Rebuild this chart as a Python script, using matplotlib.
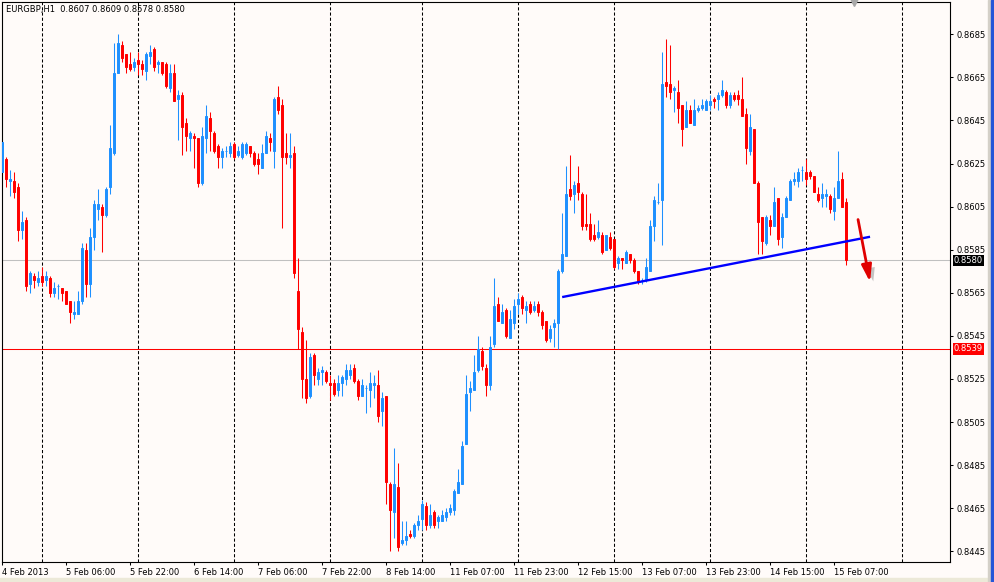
import numpy as np
import matplotlib.pyplot as plt
from matplotlib import patheffects
from matplotlib.patches import Rectangle
from matplotlib.transforms import blended_transform_factory

# EURGBP H1 bars, 4 Feb 14:00 .. 15 Feb 10:00 (2013)
opens = [
    0.8621, 0.8627, 0.8617, 0.8617, 0.8614, 0.8594, 0.8599, 0.8569, 0.8573, 0.8570,
    0.8573, 0.8571, 0.8572, 0.8565, 0.8568, 0.8567, 0.8566, 0.8561, 0.8555, 0.8555,
    0.8561, 0.8585, 0.8569, 0.8591, 0.8604, 0.8605, 0.8601, 0.8614, 0.8630, 0.8667,
    0.8680, 0.8676, 0.8671, 0.8670, 0.8673, 0.8671, 0.8668, 0.8675, 0.8678, 0.8671,
    0.8672, 0.8671, 0.8660, 0.8667, 0.8655, 0.8657, 0.8644, 0.8637, 0.8638, 0.8637,
    0.8616, 0.8637, 0.8646, 0.8639, 0.8633, 0.8628, 0.8631, 0.8630, 0.8634, 0.8629,
    0.8628, 0.8630, 0.8633, 0.8630, 0.8627, 0.8623, 0.8630, 0.8637, 0.8631, 0.8656,
    0.8652, 0.8630, 0.8628, 0.8630, 0.8566, 0.8547, 0.8525, 0.8517, 0.8536, 0.8525,
    0.8528, 0.8528, 0.8523, 0.8523, 0.8520, 0.8523, 0.8525, 0.8527, 0.8530, 0.8524,
    0.8517, 0.8521, 0.8520, 0.8522, 0.8522, 0.8510, 0.8517, 0.8476, 0.8463, 0.8475,
    0.8449, 0.8450, 0.8453, 0.8452, 0.8457, 0.8460, 0.8466, 0.8457, 0.8463, 0.8459,
    0.8459, 0.8461, 0.8463, 0.8464, 0.8472, 0.8476, 0.8495, 0.8519, 0.8520, 0.8529,
    0.8538, 0.8530, 0.8522, 0.8541, 0.8560, 0.8551, 0.8557, 0.8544, 0.8551, 0.8560,
    0.8563, 0.8557, 0.8560, 0.8557, 0.8560, 0.8556, 0.8552, 0.8544, 0.8549, 0.8551,
    0.8575, 0.8582, 0.8613, 0.8611, 0.8616, 0.8611, 0.8597, 0.8597, 0.8592, 0.8591,
    0.8592, 0.8585, 0.8591, 0.8590, 0.8579, 0.8581, 0.8579, 0.8583, 0.8580, 0.8575,
    0.8571, 0.8571, 0.8575, 0.8596, 0.8607, 0.8608, 0.8663, 0.8662, 0.8659, 0.8658,
    0.8652, 0.8642, 0.8650, 0.8643, 0.8650, 0.8651, 0.8650, 0.8652, 0.8655, 0.8655,
    0.8657, 0.8658, 0.8652, 0.8657, 0.8657, 0.8655, 0.8648, 0.8631, 0.8641, 0.8616,
    0.8600, 0.8588, 0.8599, 0.8596, 0.8609, 0.8591, 0.8600, 0.8608, 0.8617, 0.8617,
    0.8622, 0.8621, 0.8621, 0.8619, 0.8611, 0.8609, 0.8610, 0.8610, 0.8603, 0.8609,
    0.8618, 0.8607,
]
highs = [
    0.8636, 0.8628, 0.8622, 0.8621, 0.8616, 0.8603, 0.8600, 0.8575, 0.8574, 0.8575,
    0.8577, 0.8575, 0.8573, 0.8570, 0.8569, 0.8567, 0.8566, 0.8561, 0.8561, 0.8566,
    0.8588, 0.8588, 0.8595, 0.8608, 0.8613, 0.8606, 0.8614, 0.8643, 0.8681, 0.8685,
    0.8682, 0.8676, 0.8677, 0.8674, 0.8677, 0.8673, 0.8677, 0.8680, 0.8679, 0.8673,
    0.8672, 0.8672, 0.8671, 0.8671, 0.8659, 0.8658, 0.8646, 0.8640, 0.8639, 0.8637,
    0.8642, 0.8652, 0.8649, 0.8640, 0.8634, 0.8632, 0.8633, 0.8635, 0.8635, 0.8633,
    0.8635, 0.8635, 0.8633, 0.8631, 0.8630, 0.8634, 0.8640, 0.8639, 0.8656, 0.8661,
    0.8655, 0.8639, 0.8639, 0.8633, 0.8581, 0.8549, 0.8543, 0.8537, 0.8537, 0.8530,
    0.8531, 0.8529, 0.8527, 0.8525, 0.8527, 0.8527, 0.8532, 0.8532, 0.8532, 0.8525,
    0.8525, 0.8522, 0.8528, 0.8527, 0.8529, 0.8519, 0.8517, 0.8477, 0.8493, 0.8486,
    0.8459, 0.8459, 0.8455, 0.8458, 0.8462, 0.8469, 0.8468, 0.8467, 0.8464, 0.8462,
    0.8464, 0.8465, 0.8467, 0.8474, 0.8483, 0.8496, 0.8527, 0.8524, 0.8536, 0.8545,
    0.8540, 0.8532, 0.8545, 0.8572, 0.8563, 0.8560, 0.8558, 0.8557, 0.8562, 0.8565,
    0.8564, 0.8561, 0.8561, 0.8561, 0.8561, 0.8557, 0.8552, 0.8550, 0.8553, 0.8576,
    0.8602, 0.8624, 0.8629, 0.8617, 0.8624, 0.8612, 0.8611, 0.8602, 0.8597, 0.8599,
    0.8593, 0.8592, 0.8593, 0.8590, 0.8582, 0.8581, 0.8585, 0.8583, 0.8581, 0.8575,
    0.8572, 0.8581, 0.8599, 0.8610, 0.8616, 0.8677, 0.8683, 0.8680, 0.8661, 0.8664,
    0.8652, 0.8654, 0.8652, 0.8655, 0.8652, 0.8655, 0.8655, 0.8657, 0.8656, 0.8658,
    0.8664, 0.8659, 0.8658, 0.8658, 0.8659, 0.8665, 0.8651, 0.8648, 0.8641, 0.8617,
    0.8600, 0.8601, 0.8601, 0.8614, 0.8609, 0.8602, 0.8610, 0.8618, 0.8621, 0.8623,
    0.8624, 0.8627, 0.8622, 0.8619, 0.8614, 0.8616, 0.8613, 0.8611, 0.8614, 0.8631,
    0.8621, 0.8609,
]
lows = [
    0.8620, 0.8614, 0.8610, 0.8609, 0.8589, 0.8590, 0.8566, 0.8565, 0.8567, 0.8568,
    0.8568, 0.8568, 0.8563, 0.8563, 0.8562, 0.8561, 0.8560, 0.8551, 0.8553, 0.8555,
    0.8560, 0.8563, 0.8563, 0.8585, 0.8599, 0.8584, 0.8600, 0.8611, 0.8629, 0.8667,
    0.8672, 0.8667, 0.8668, 0.8668, 0.8666, 0.8666, 0.8664, 0.8671, 0.8668, 0.8667,
    0.8666, 0.8660, 0.8658, 0.8654, 0.8636, 0.8629, 0.8631, 0.8631, 0.8623, 0.8614,
    0.8615, 0.8630, 0.8631, 0.8630, 0.8623, 0.8623, 0.8628, 0.8628, 0.8627, 0.8628,
    0.8627, 0.8629, 0.8628, 0.8624, 0.8620, 0.8623, 0.8630, 0.8631, 0.8623, 0.8648,
    0.8595, 0.8625, 0.8623, 0.8572, 0.8539, 0.8516, 0.8514, 0.8516, 0.8522, 0.8522,
    0.8522, 0.8523, 0.8515, 0.8517, 0.8517, 0.8517, 0.8522, 0.8525, 0.8523, 0.8515,
    0.8517, 0.8509, 0.8512, 0.8516, 0.8505, 0.8503, 0.8467, 0.8445, 0.8451, 0.8445,
    0.8448, 0.8448, 0.8451, 0.8451, 0.8455, 0.8455, 0.8455, 0.8456, 0.8456, 0.8456,
    0.8459, 0.8459, 0.8462, 0.8462, 0.8472, 0.8476, 0.8495, 0.8510, 0.8520, 0.8528,
    0.8529, 0.8517, 0.8520, 0.8540, 0.8552, 0.8551, 0.8544, 0.8544, 0.8548, 0.8555,
    0.8555, 0.8551, 0.8555, 0.8556, 0.8554, 0.8548, 0.8542, 0.8542, 0.8540, 0.8539,
    0.8574, 0.8582, 0.8608, 0.8602, 0.8608, 0.8594, 0.8594, 0.8589, 0.8589, 0.8590,
    0.8583, 0.8585, 0.8585, 0.8576, 0.8576, 0.8576, 0.8579, 0.8579, 0.8574, 0.8569,
    0.8569, 0.8570, 0.8575, 0.8589, 0.8606, 0.8587, 0.8656, 0.8655, 0.8649, 0.8644,
    0.8633, 0.8642, 0.8644, 0.8643, 0.8649, 0.8650, 0.8650, 0.8650, 0.8651, 0.8650,
    0.8656, 0.8651, 0.8651, 0.8654, 0.8652, 0.8647, 0.8625, 0.8629, 0.8616, 0.8583,
    0.8583, 0.8587, 0.8592, 0.8596, 0.8587, 0.8586, 0.8600, 0.8608, 0.8615, 0.8614,
    0.8617, 0.8615, 0.8618, 0.8612, 0.8607, 0.8605, 0.8605, 0.8602, 0.8599, 0.8609,
    0.8605, 0.8578,
]
closes = [
    0.8635, 0.8618, 0.8618, 0.8612, 0.8594, 0.8598, 0.8568, 0.8574, 0.8571, 0.8572,
    0.8570, 0.8573, 0.8565, 0.8567, 0.8568, 0.8565, 0.8560, 0.8556, 0.8556, 0.8561,
    0.8586, 0.8569, 0.8591, 0.8606, 0.8606, 0.8601, 0.8613, 0.8632, 0.8667, 0.8681,
    0.8674, 0.8670, 0.8669, 0.8672, 0.8671, 0.8669, 0.8676, 0.8677, 0.8670, 0.8672,
    0.8667, 0.8661, 0.8667, 0.8654, 0.8657, 0.8642, 0.8638, 0.8639, 0.8637, 0.8616,
    0.8638, 0.8647, 0.8640, 0.8631, 0.8628, 0.8631, 0.8631, 0.8633, 0.8628, 0.8631,
    0.8634, 0.8634, 0.8630, 0.8625, 0.8625, 0.8630, 0.8638, 0.8635, 0.8655, 0.8650,
    0.8628, 0.8628, 0.8629, 0.8574, 0.8548, 0.8525, 0.8516, 0.8535, 0.8527, 0.8528,
    0.8529, 0.8524, 0.8522, 0.8518, 0.8523, 0.8526, 0.8529, 0.8529, 0.8524, 0.8517,
    0.8522, 0.8521, 0.8523, 0.8523, 0.8508, 0.8516, 0.8477, 0.8464, 0.8476, 0.8447,
    0.8450, 0.8452, 0.8452, 0.8457, 0.8459, 0.8467, 0.8457, 0.8462, 0.8457, 0.8461,
    0.8462, 0.8463, 0.8465, 0.8473, 0.8477, 0.8494, 0.8518, 0.8521, 0.8528, 0.8539,
    0.8531, 0.8522, 0.8540, 0.8559, 0.8552, 0.8556, 0.8545, 0.8553, 0.8559, 0.8562,
    0.8558, 0.8559, 0.8556, 0.8559, 0.8556, 0.8550, 0.8543, 0.8548, 0.8551, 0.8575,
    0.8583, 0.8611, 0.8610, 0.8615, 0.8612, 0.8596, 0.8596, 0.8590, 0.8590, 0.8593,
    0.8584, 0.8592, 0.8586, 0.8577, 0.8581, 0.8580, 0.8584, 0.8580, 0.8575, 0.8570,
    0.8571, 0.8577, 0.8596, 0.8608, 0.8607, 0.8662, 0.8661, 0.8658, 0.8660, 0.8651,
    0.8641, 0.8650, 0.8644, 0.8650, 0.8651, 0.8652, 0.8654, 0.8654, 0.8654, 0.8657,
    0.8659, 0.8652, 0.8657, 0.8655, 0.8655, 0.8647, 0.8632, 0.8642, 0.8616, 0.8598,
    0.8589, 0.8600, 0.8596, 0.8607, 0.8590, 0.8600, 0.8609, 0.8617, 0.8618, 0.8621,
    0.8622, 0.8618, 0.8619, 0.8612, 0.8608, 0.8611, 0.8611, 0.8604, 0.8609, 0.8617,
    0.8605, 0.8580,
]

# time axis labels every 16 bars, day separators (bar index of 00:00)
tick_labels = ["4 Feb 2013", "5 Feb 06:00", "5 Feb 22:00", "6 Feb 14:00", "7 Feb 06:00",
               "7 Feb 22:00", "8 Feb 14:00", "11 Feb 07:00", "11 Feb 23:00", "12 Feb 15:00",
               "13 Feb 07:00", "13 Feb 23:00", "14 Feb 15:00", "15 Feb 07:00"]
day_starts = [10, 34, 58, 82, 105, 129, 153, 177, 201, 225]
price_ticks = [0.8445, 0.8465, 0.8485, 0.8505, 0.8525, 0.8545, 0.8565,
               0.8585, 0.8605, 0.8625, 0.8645, 0.8665, 0.8685]

bid_price = 0.8580
level_price = 0.8539
trend_x = [140, 217]
trend_y = [0.8563, 0.8591]
arrow_from = (214, 0.8599)
arrow_to = (217, 0.8570)
header = "EURGBP,H1  0.8607 0.8609 0.8578 0.8580"

bull = "#1E90FF"
bear = "#FF0000"
bg = "#FFFBF9"

plt.rcParams["font.family"] = "DejaVu Sans"

fig = plt.figure(figsize=(9.94, 5.82), dpi=100, facecolor=bg)
ax = fig.add_axes([2 / 994, 20 / 582, 948 / 994, 560 / 582], facecolor=bg)

o = np.array(opens)
h = np.array(highs)
l = np.array(lows)
c = np.array(closes)
x = np.arange(len(o))
colors = np.where(c >= o, bull, bear)

# day separators
for d in day_starts:
    ax.axvline(d, color="black", lw=0.75, dashes=(3, 2), zorder=1)

ax.axhline(bid_price, color="#C0C0C0", lw=0.75, zorder=1)
ax.axhline(level_price, color="#FF0000", lw=0.75, zorder=1)

# candles
ax.vlines(x, np.minimum(l, np.minimum(o, c)), np.maximum(h, np.maximum(o, c)),
          colors=colors, lw=0.75, zorder=2)
ax.bar(x, c - o, bottom=o, width=0.5, color=colors, edgecolor=colors,
       linewidth=0.7, zorder=3)

# trend line and arrow
ax.plot(trend_x, trend_y, color="#0000FF", lw=1.7, zorder=4, solid_capstyle="butt")
ann = ax.annotate("", xy=arrow_to, xytext=arrow_from,
                  arrowprops=dict(arrowstyle="-|>,head_length=1.0,head_width=0.3",
                                  color="#E00000", lw=2.0, shrinkA=0, shrinkB=0),
                  zorder=5)
ann.arrow_patch.set_path_effects([
    patheffects.SimplePatchShadow(offset=(3, -3), shadow_rgbFace="#808080", alpha=0.45),
    patheffects.Normal()])

ax.set_xlim(-0.1, 237)
ax.set_ylim(0.8440, 0.8700)

ax.set_xticks(x[::16])
ax.set_xticklabels(tick_labels, ha="left")
ax.yaxis.tick_right()
ax.set_yticks(price_ticks)
ax.set_yticklabels([f"{p:.4f}" for p in price_ticks])
ax.tick_params(axis="both", direction="out", length=2.5, width=0.75,
               labelsize=6, colors="black", pad=2)

for s in ax.spines.values():
    s.set_color("black")
    s.set_linewidth(0.8)

# header text
ax.annotate(header, xy=(0, 1), xycoords="axes fraction", xytext=(4, -3),
            textcoords="offset pixels", ha="left", va="top", fontsize=6)

# price labels on the right scale
yt = blended_transform_factory(ax.transAxes, ax.transData)
ax.annotate(f"{bid_price:.4f}", xy=(1, bid_price), xycoords=yt, xytext=(4, 0),
            textcoords="offset pixels", ha="left", va="center", fontsize=6,
            color="white", annotation_clip=False,
            bbox=dict(boxstyle="square,pad=0.15", fc="black", ec="none"))
ax.annotate(f"{level_price:.4f}", xy=(1, level_price), xycoords=yt, xytext=(4, 0),
            textcoords="offset pixels", ha="left", va="center", fontsize=6,
            color="white", annotation_clip=False,
            bbox=dict(boxstyle="square,pad=0.15", fc="#FF0000", ec="none"))

# chart shift marker
xt = blended_transform_factory(ax.transData, ax.transAxes)
ax.plot([len(o) + 1], [1.0], transform=xt, marker="v", ms=6, color="#A8A8A8",
        clip_on=False, zorder=6)

# window frame strips
fig.patches.append(Rectangle((0, 0), 1, 4 / 582, transform=fig.transFigure,
                             color="#ECE9D8", zorder=-1))
fig.patches.append(Rectangle((988 / 994, 0), 3 / 994, 1, transform=fig.transFigure,
                             color="#D4D0C8", zorder=-1))
fig.patches.append(Rectangle((991 / 994, 0), 3 / 994, 1, transform=fig.transFigure,
                             color="#2456D8", zorder=-1))

fig.savefig("out.png", dpi=100, facecolor=bg)
